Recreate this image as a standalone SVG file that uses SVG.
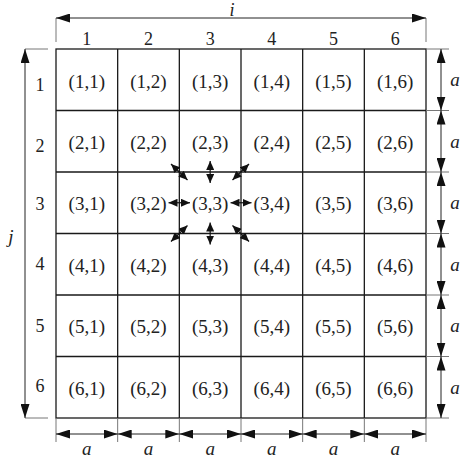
<svg xmlns="http://www.w3.org/2000/svg" width="462" height="466" viewBox="0 0 462 466" font-family="'Liberation Serif', 'Times New Roman', Tinos, 'DejaVu Serif', serif">
<defs>
<marker id="ah" markerUnits="userSpaceOnUse" markerWidth="14" markerHeight="9" refX="14" refY="4.5" orient="auto-start-reverse" viewBox="0 0 14 9">
<path d="M0,0 L14,4.5 L0,9 z" fill="#111"/>
</marker>
<marker id="sh" markerUnits="userSpaceOnUse" markerWidth="9" markerHeight="8" refX="9" refY="4" orient="auto-start-reverse" viewBox="0 0 9 8">
<path d="M0,0 L9,4 L0,8 z" fill="#111"/>
</marker>
</defs>
<style>
.grid{stroke:#1a1a1a;stroke-width:1.3;fill:none}
.ext{stroke:#777;stroke-width:1;fill:none}
.dim{stroke:#222;stroke-width:1;fill:none;marker-start:url(#ah);marker-end:url(#ah)}
.sm{stroke:#111;stroke-width:1.2;fill:none;marker-start:url(#sh);marker-end:url(#sh)}
text{font-family:"Liberation Serif","Times New Roman",serif;fill:#222}
.cell{font-size:19px;text-anchor:middle}
.num{font-size:18px;text-anchor:middle}
.it{font-style:italic;font-size:19px;text-anchor:middle}
</style>
<g id="grid">
<rect class="grid" x="56" y="49" width="370" height="369" stroke-width="1.6"/>
<path class="grid" d="M117.67,49V418M179.33,49V418M241,49V418M302.67,49V418M364.33,49V418M56,110.5H426M56,172H426M56,233.5H426M56,295H426M56,356.5H426"/>
</g>
<g id="connectors">
<path class="ext" d="M56,18V42M426,18V42M25,49H48M25,418H48M426,49H449M426,110.5H449M426,172H449M426,233.5H449M426,295H449M426,356.5H449M426,418H449M56,418V442M117.67,418V442M179.33,418V442M241,418V442M302.67,418V442M364.33,418V442M426,418V442"/>
<line class="dim" x1="56" y1="18" x2="426" y2="18"/>
<line class="dim" x1="25" y1="49" x2="25" y2="418"/>
<line class="dim" x1="441" y1="49" x2="441" y2="110.5"/>
<line class="dim" x1="441" y1="110.5" x2="441" y2="172"/>
<line class="dim" x1="441" y1="172" x2="441" y2="233.5"/>
<line class="dim" x1="441" y1="233.5" x2="441" y2="295"/>
<line class="dim" x1="441" y1="295" x2="441" y2="356.5"/>
<line class="dim" x1="441" y1="356.5" x2="441" y2="418"/>
<line class="dim" x1="56" y1="434" x2="117.67" y2="434"/>
<line class="dim" x1="117.67" y1="434" x2="179.33" y2="434"/>
<line class="dim" x1="179.33" y1="434" x2="241" y2="434"/>
<line class="dim" x1="241" y1="434" x2="302.67" y2="434"/>
<line class="dim" x1="302.67" y1="434" x2="364.33" y2="434"/>
<line class="dim" x1="364.33" y1="434" x2="426" y2="434"/>
<line class="sm" x1="210.17" y1="161" x2="210.17" y2="183"/>
<line class="sm" x1="210.17" y1="222.5" x2="210.17" y2="244.5"/>
<line class="sm" x1="168.5" y1="202.75" x2="190" y2="202.75"/>
<line class="sm" x1="230.5" y1="202.75" x2="251.5" y2="202.75"/>
<line class="sm" x1="171" y1="164" x2="187.5" y2="180"/>
<line class="sm" x1="249" y1="164" x2="232.5" y2="180"/>
<line class="sm" x1="171" y1="241.5" x2="187.5" y2="225.5"/>
<line class="sm" x1="249" y1="241.5" x2="232.5" y2="225.5"/>
</g>
<g id="labels">
<text class="it" x="232" y="16" style="font-size:18px">i</text>
<text class="it" x="11" y="243">j</text>
<text class="num" x="86.8" y="45">1</text>
<text class="num" x="148.5" y="45">2</text>
<text class="num" x="210.2" y="45">3</text>
<text class="num" x="271.8" y="45">4</text>
<text class="num" x="333.5" y="45">5</text>
<text class="num" x="395.2" y="45">6</text>
<text class="num" x="40" y="91">1</text>
<text class="num" x="40" y="152">2</text>
<text class="num" x="40" y="210">3</text>
<text class="num" x="40" y="270">4</text>
<text class="num" x="40" y="332">5</text>
<text class="num" x="40" y="392">6</text>
<text class="it" x="455" y="86">a</text>
<text class="it" x="455" y="147.5">a</text>
<text class="it" x="455" y="209">a</text>
<text class="it" x="455" y="270.5">a</text>
<text class="it" x="455" y="332">a</text>
<text class="it" x="455" y="393.5">a</text>
<text class="it" x="86.8" y="455">a</text>
<text class="it" x="148.5" y="455">a</text>
<text class="it" x="210.2" y="455">a</text>
<text class="it" x="271.8" y="455">a</text>
<text class="it" x="333.5" y="455">a</text>
<text class="it" x="395.2" y="455">a</text>
</g>
<g id="cells">
<g id="r1"><text class="cell" x="86.8" y="87.5">(1,1)</text><text class="cell" x="148.5" y="87.5">(1,2)</text><text class="cell" x="210.2" y="87.5">(1,3)</text><text class="cell" x="271.8" y="87.5">(1,4)</text><text class="cell" x="333.5" y="87.5">(1,5)</text><text class="cell" x="395.2" y="87.5">(1,6)</text></g>
<g id="r2"><text class="cell" x="86.8" y="149">(2,1)</text><text class="cell" x="148.5" y="149">(2,2)</text><text class="cell" x="210.2" y="149">(2,3)</text><text class="cell" x="271.8" y="149">(2,4)</text><text class="cell" x="333.5" y="149">(2,5)</text><text class="cell" x="395.2" y="149">(2,6)</text></g>
<g id="r3"><text class="cell" x="86.8" y="210">(3,1)</text><text class="cell" x="148.5" y="210">(3,2)</text><text class="cell" x="210.2" y="210">(3,3)</text><text class="cell" x="271.8" y="210">(3,4)</text><text class="cell" x="333.5" y="210">(3,5)</text><text class="cell" x="395.2" y="210">(3,6)</text></g>
<g id="r4"><text class="cell" x="86.8" y="271.5">(4,1)</text><text class="cell" x="148.5" y="271.5">(4,2)</text><text class="cell" x="210.2" y="271.5">(4,3)</text><text class="cell" x="271.8" y="271.5">(4,4)</text><text class="cell" x="333.5" y="271.5">(4,5)</text><text class="cell" x="395.2" y="271.5">(4,6)</text></g>
<g id="r5"><text class="cell" x="86.8" y="333">(5,1)</text><text class="cell" x="148.5" y="333">(5,2)</text><text class="cell" x="210.2" y="333">(5,3)</text><text class="cell" x="271.8" y="333">(5,4)</text><text class="cell" x="333.5" y="333">(5,5)</text><text class="cell" x="395.2" y="333">(5,6)</text></g>
<g id="r6"><text class="cell" x="86.8" y="394.5">(6,1)</text><text class="cell" x="148.5" y="394.5">(6,2)</text><text class="cell" x="210.2" y="394.5">(6,3)</text><text class="cell" x="271.8" y="394.5">(6,4)</text><text class="cell" x="333.5" y="394.5">(6,5)</text><text class="cell" x="395.2" y="394.5">(6,6)</text></g>
</g>
</svg>
